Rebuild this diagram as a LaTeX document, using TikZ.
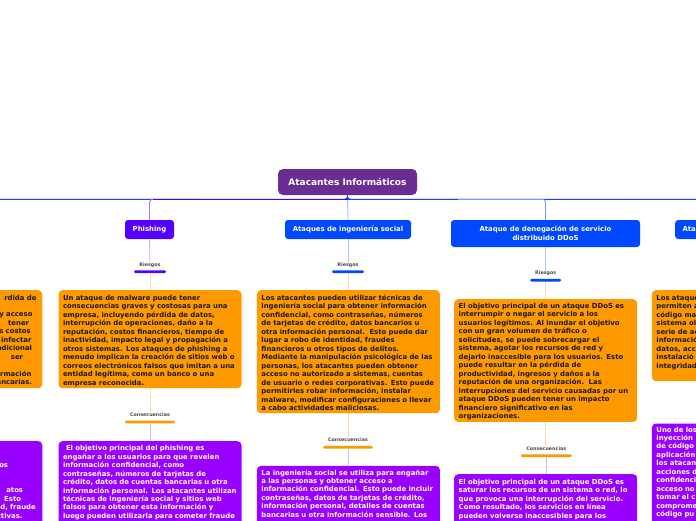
\documentclass[tikz,border=0pt]{standalone}
\usepackage{fontspec}
\setmainfont{DejaVu Sans}
\usetikzlibrary{calc}
\definecolor{rootc}{HTML}{6A2D91}
\definecolor{phc}{HTML}{5500FF}
\definecolor{blc}{HTML}{0048FF}
\definecolor{hline}{HTML}{1A44E8}
\definecolor{orc}{HTML}{FF9900}
\definecolor{puc}{HTML}{9900FF}
\definecolor{orl}{HTML}{FFD9A6}
\definecolor{pul}{HTML}{DDB3FF}
\definecolor{phl}{HTML}{C8B3FF}
\definecolor{bll}{HTML}{AAC2FF}
\definecolor{txt}{HTML}{1A1A1A}
\definecolor{labc}{HTML}{4A4A4A}
\newcommand\bodyf{\fontsize{6.9}{8.47}\selectfont\bfseries}
\newcommand\topf{\fontsize{6.9}{9.3}\selectfont\bfseries}
\newcommand\rootf{\fontsize{9}{11}\selectfont\bfseries}
\newcommand\labf{\fontsize{4.8}{5.5}\selectfont\bfseries}
\newcommand\tl[1]{\begin{tabular}[t]{@{}l@{}}#1\end{tabular}}
\newcommand\trr[1]{\begin{tabular}[t]{@{}r@{}}#1\end{tabular}}
\tikzset{
  box/.style={rounded corners=4pt, inner xsep=4.5pt, inner ysep=0pt, text width=174pt, align=left, font=\bodyf, anchor=north west},
  orbox/.style={box, fill=orc, text=txt},
  pubox/.style={box, fill=puc, text=white},
  topic/.style={rounded corners=3pt, text=white, font=\topf, inner sep=0pt, align=center},
  lab/.style={font=\labf, text=labc, inner sep=0pt, text height=3.6pt, text depth=1.1pt},
  barn/.style={rounded corners=1.3pt, inner sep=0pt, minimum height=2.7pt},
  conn/.style={line width=0.9pt},
}
\begin{document}
\begin{tikzpicture}[x=1pt,y=-1pt]
\useasboundingbox (0,0) rectangle (696,520);
\clip (0,0) rectangle (696,520);
\fill[white] (0,0) rectangle (696,520);

% topics
\node[topic, fill=rootc, minimum width=139pt, minimum height=26pt, font=\rootf, rounded corners=5pt] (root) at (347.5,182) {Atacantes Informáticos};
\node[topic, fill=phc, minimum width=49pt, minimum height=19pt] (ph) at (149.5,229.5) {Phishing};
\node[topic, fill=blc, minimum width=126pt, minimum height=19pt] (ing) at (348,229.5) {Ataques de ingeniería social};
\node[topic, fill=blc, minimum width=189pt, minimum height=27pt] (dd) at (545.5,233.5) {Ataque de denegación de servicio\\distribuido DDoS};
\node[topic, fill=blc, minimum height=19pt, anchor=west, text width=120pt, inner xsep=7.3pt, align=left] (rt) at (675,229.5) {Ata};
\coordinate (lt) at (-49,220);
\coordinate (hj) at (347.5,199.3);

% root connectors
\draw[conn, hline, rounded corners=3pt] (root.south) -- (hj) -| (lt);
\draw[conn, hline, rounded corners=3pt] (root.south) -- (hj) -| (rt.north);
\draw[conn, blc!55, rounded corners=3pt] ($(hj)+(100,0)$) -| (dd.north);
\draw[conn, hline] (hj) -- ($(hj)+(110,0)$);
\draw[conn, blc!35] (hj) -- (ing.north);
\draw[conn, phc!55, rounded corners=3pt] ($(hj)+(-150,0)$) -| (ph.north);
\draw[conn, phc!90!black] (hj) -- ($(hj -| ph.north)+(3,0)$);
\draw[conn, hline] (root.south) -- (hj);

% labels and bars
\node[lab] (r1) at (150,265.3) {Riesgos};
\node[barn, fill=phc, minimum width=32pt] (rb1) at (150,271.7) {};
\node[lab] (r2) at (348,265.3) {Riesgos};
\node[barn, fill=blc, minimum width=32pt] (rb2) at (348,271.7) {};
\node[lab] (r3) at (545.7,273) {Riesgos};
\node[barn, fill=blc, minimum width=31pt] (rb3) at (545.7,280.2) {};
\node[lab] (c1) at (150,415) {Consecuencias};
\node[barn, fill=orc, minimum width=50pt] (cb1) at (150,422) {};
\node[lab] (c2) at (348,440) {Consecuencias};
\node[barn, fill=orc, minimum width=50pt] (cb2) at (348,447.3) {};
\node[lab] (c3) at (546.3,449.2) {Consecuencias};
\node[barn, fill=orc, minimum width=51pt] (cb3) at (546.3,455.7) {};

% orange boxes
\node[orbox, anchor=north east, align=right, text height=9.8pt, text depth=88.2pt] (o0) at (42.5,290) {\trr{rdida de\hspace*{1.3pt}\\ \mbox{}\\ y acceso\hspace*{5.3pt}\\ tener\hspace*{8.7pt}\\ s costos\hspace*{7pt}\\ infectar\hspace*{6.3pt}\\ adicional\hspace*{5.7pt}\\ ser\hspace*{14.7pt}\\ \mbox{}\\ rmación\hspace*{6.3pt}\\ ancarias.\hspace*{5.7pt}}};
\node[orbox, text height=10.2pt, text depth=87.8pt] (o1) at (58.3,290) {\tl{Un ataque de malware puede tener\\
consecuencias graves y costosas para una\\
empresa, incluyendo pérdida de datos,\\
interrupción de operaciones, daño a la\\
reputación, costos financieros, tiempo de\\
inactividad, impacto legal y propagación a\\
otros sistemas. Los ataques de phishing a\\
menudo implican la creación de sitios web o\\
correos electrónicos falsos que imitan a una\\
entidad legítima, como un banco o una\\
empresa reconocida.}};
\node[orbox, text height=10.2pt, text depth=112.8pt] (o2) at (256.7,290) {\tl{Los atacantes pueden utilizar técnicas de\\
ingeniería social para obtener información\\
confidencial, como contraseñas, números\\
de tarjetas de crédito, datos bancarios u\\
otra información personal.~\ Esto puede dar\\
lugar a robo de identidad, fraudes\\
financieros u otros tipos de delitos.\\
Mediante la manipulación psicológica de las\\
personas, los atacantes pueden obtener\\
acceso no autorizado a sistemas, cuentas\\
de usuario o redes corporativas. Esto puede\\
permitirles robar información, instalar\\
malware, modificar configuraciones o llevar\\
a cabo actividades maliciosas.}};
\node[orbox, text height=9.2pt, text depth=113.5pt] (o3) at (454,299) {\tl{El objetivo principal de un ataque DDoS es\\
interrumpir o negar el servicio a los\\
usuarios legítimos. Al inundar el objetivo\\
con un gran volumen de tráfico o\\
solicitudes, se puede sobrecargar el\\
sistema, agotar los recursos de red y\\
dejarlo inaccesible para los usuarios. Esto\\
puede resultar en la pérdida de\\
productividad, ingresos y daños a la\\
reputación de una organización.~\ Las\\
interrupciones del servicio causadas por un\\
ataque DDoS pueden tener un impacto\\
financiero significativo en las\\
organizaciones.}};
\node[orbox, text height=10.2pt, text depth=80.8pt] (o4) at (651.7,290) {\tl{Los ataque\\ permiten a\\ código ma\\ sistema ol\\ serie de ac\\ informació\\ datos, acc\\ instalació\\ integridad}};

% purple boxes
\node[pubox, anchor=north east, align=right, text height=9.2pt, text depth=100pt] (p0) at (42.5,441) {\trr{\mbox{}\\ \mbox{}\\ os\hspace*{29.7pt}\\ \mbox{}\\ \mbox{}\\ atos\hspace*{14.7pt}\\ Esto\hspace*{16.7pt}\\ d, fraude\hspace*{2pt}\\ ctivas.\hspace*{15.3pt}}};
\node[pubox, text height=9.5pt, text depth=100pt] (p1) at (58.3,441) {\tl{\hspace*{3pt}El objetivo principal del phishing es\\
engañar a los usuarios para que revelen\\
información confidencial, como\\
contraseñas, números de tarjetas de\\
crédito, datos de cuentas bancarias u otra\\
información personal. Los atacantes utilizan\\
técnicas de ingeniería social y sitios web\\
falsos para obtener esta información y\\
luego pueden utilizarla para cometer fraude}};
\node[pubox, text height=9.1pt, text depth=80pt] (p2) at (256.7,465.7) {\tl{La ingeniería social se utiliza para engañar\\
a las personas y obtener acceso a\\
información confidencial. Esto puede incluir\\
contraseñas, datos de tarjetas de crédito,\\
información personal, detalles de cuentas\\
bancarias u otra información sensible. Los}};
\node[pubox, text height=10.2pt, text depth=60pt] (p3) at (454,474) {\tl{El objetivo principal de un ataque DDoS es\\
saturar los recursos de un sistema o red, lo\\
que provoca una interrupción del servicio.\\
Como resultado, los servicios en línea\\
pueden volverse inaccesibles para los}};
\node[pubox, text height=8.5pt, text depth=120pt] (p4) at (651.7,423.3) {\tl{Uno de los\\ inyección\\ de código\\ aplicación\\ los atacan\\ acciones d\\ confidenci\\ acceso no\\ tomar el c\\ comprome\\ código pu}};

% branch connectors
\draw[conn, phl] (ph.south) -- (r1.north);
\draw[conn, orl] (rb1.south) -- (rb1.south |- o1.north);
\draw[conn, orl] (o1.south |- o1.south) -- (c1.north -| o1.south);
\draw[conn, pul] (cb1.south) -- (cb1.south |- p1.north);
\draw[conn, bll] (ing.south) -- (r2.north);
\draw[conn, orl] (rb2.south) -- (rb2.south |- o2.north);
\draw[conn, orl] (o2.south) -- (c2.north -| o2.south);
\draw[conn, pul] (cb2.south) -- (cb2.south |- p2.north);
\draw[conn, bll] (dd.south) -- (r3.north -| dd.south);
\draw[conn, orl] (rb3.south) -- (rb3.south |- o3.north);
\draw[conn, orl] (o3.south) -- (c3.north -| o3.south);
\draw[conn, pul] (cb3.south) -- (cb3.south |- p3.north);
\end{tikzpicture}
\end{document}
